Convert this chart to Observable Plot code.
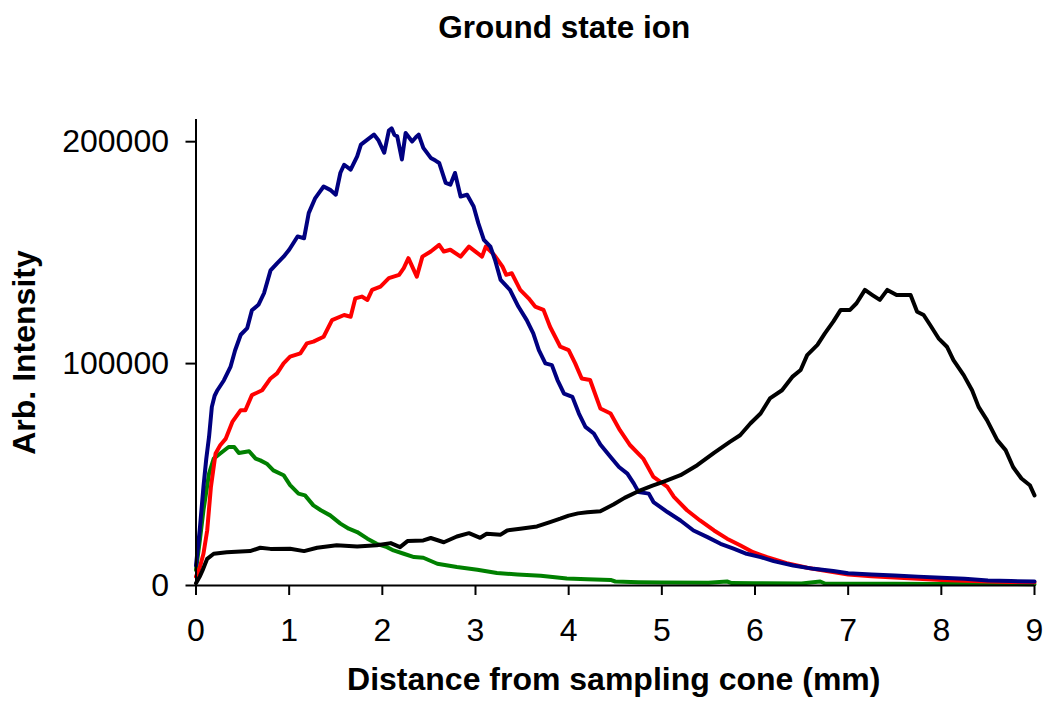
<!DOCTYPE html>
<html>
<head>
<meta charset="utf-8">
<script src="https://cdn.jsdelivr.net/npm/d3@7"></script>
<script src="https://cdn.jsdelivr.net/npm/@observablehq/plot@0.6"></script>
<style>
  html, body { margin: 0; padding: 0; background: #fff; }
  #chart { width: 1044px; height: 702px; }
</style>
</head>
<body>
<div id="chart"></div>
<script>
const titleText = "Ground state ion";
const xLabel = "Distance from sampling cone (mm)";
const yLabel = "Arb. Intensity";
const xTicks = [0, 1, 2, 3, 4, 5, 6, 7, 8, 9];
const yTicks = [0, 100000, 200000];

// [distance (mm), intensity]
const blue = [[0,9000],[0.04,25000],[0.08,44400],[0.11,57000],[0.14,67000],[0.17,80500],[0.2,85500],[0.23,88000],[0.3,92500],[0.37,98500],[0.42,106000],[0.48,113000],[0.55,116000],[0.6,124000],[0.67,126500],[0.73,131700],[0.8,142000],[0.87,145200],[0.94,148200],[1.0,151300],[1.09,157300],[1.16,156500],[1.21,167800],[1.28,174600],[1.33,177500],[1.37,179800],[1.44,178300],[1.5,176100],[1.55,186000],[1.59,189600],[1.66,187400],[1.73,193400],[1.77,198700],[1.84,200900],[1.91,203200],[1.96,200500],[2.02,195000],[2.07,205000],[2.1,206000],[2.13,203000],[2.16,202400],[2.21,192000],[2.25,203900],[2.32,200100],[2.36,202000],[2.39,203200],[2.44,197200],[2.52,192700],[2.57,191500],[2.61,190400],[2.68,181400],[2.73,180600],[2.78,185900],[2.84,175300],[2.91,176100],[2.98,170800],[3.03,163300],[3.09,155800],[3.16,152700],[3.21,146700],[3.27,137700],[3.37,133200],[3.46,125700],[3.55,119600],[3.62,113600],[3.68,106100],[3.75,100100],[3.82,99300],[3.88,92600],[3.95,86500],[4.04,85000],[4.11,77500],[4.18,71500],[4.27,68500],[4.34,63500],[4.45,57900],[4.54,53400],[4.63,50400],[4.7,45900],[4.75,42100],[4.86,41400],[4.91,37600],[5.06,33100],[5.2,29300],[5.34,24800],[5.49,21800],[5.63,18800],[5.77,16600],[5.91,14300],[6.06,12800],[6.2,11000],[6.41,9000],[6.63,7500],[6.84,6500],[7.0,5500],[7.25,5000],[7.5,4500],[7.75,4000],[8.0,3500],[8.25,3000],[8.5,2300],[8.75,2000],[9.0,1800]];

const red = [[0,4000],[0.04,8000],[0.08,14300],[0.12,24800],[0.16,44400],[0.21,59500],[0.26,63200],[0.32,66200],[0.39,73700],[0.48,79000],[0.53,79000],[0.6,85800],[0.71,88000],[0.8,93300],[0.87,95600],[0.94,100100],[1.01,103100],[1.12,104600],[1.19,109100],[1.26,109900],[1.37,112100],[1.46,119600],[1.59,121900],[1.66,121100],[1.71,129400],[1.78,130200],[1.84,128700],[1.89,133200],[1.98,134700],[2.07,138500],[2.18,140000],[2.23,143000],[2.28,147500],[2.37,139200],[2.43,148200],[2.52,150500],[2.61,153500],[2.66,150500],[2.73,151300],[2.84,148200],[2.93,152700],[3.0,150500],[3.07,148200],[3.11,152700],[3.2,149000],[3.29,143700],[3.33,140000],[3.39,140700],[3.48,133200],[3.57,129400],[3.64,125700],[3.73,124200],[3.8,116600],[3.91,107600],[4.0,106100],[4.07,100100],[4.14,93300],[4.23,92600],[4.34,79800],[4.45,77500],[4.55,70000],[4.66,63200],[4.8,57200],[4.91,48900],[5.06,44400],[5.13,39900],[5.27,33900],[5.41,29300],[5.56,24800],[5.7,21100],[5.84,18100],[5.98,15000],[6.13,12800],[6.34,10100],[6.56,8000],[6.77,6500],[7.0,5000],[7.25,4200],[7.5,3600],[7.75,3000],[8.0,2500],[8.25,2100],[8.5,1800],[8.75,1600],[9.0,1500]];

const green = [[0,7000],[0.04,20000],[0.08,33900],[0.14,50400],[0.19,57200],[0.26,59500],[0.35,62400],[0.41,62400],[0.46,59700],[0.57,60500],[0.64,57200],[0.69,56400],[0.76,54900],[0.83,51900],[0.94,49700],[1.01,45200],[1.1,41400],[1.17,40600],[1.26,36100],[1.34,33900],[1.44,31600],[1.55,27900],[1.64,25600],[1.73,24100],[1.84,21100],[1.94,18800],[2.05,17300],[2.12,15800],[2.23,14300],[2.34,12800],[2.44,12500],[2.59,9800],[2.8,8300],[3.02,7100],[3.23,5600],[3.45,5000],[3.7,4400],[3.98,3200],[4.2,2800],[4.45,2500],[4.5,1800],[4.75,1500],[5.0,1300],[5.5,1200],[5.7,1800],[5.75,1100],[6.0,1000],[6.5,900],[6.7,1800],[6.75,900],[7.0,800],[7.5,800],[8.0,700],[8.5,700],[9.0,600]];

const black = [[0,1000],[0.04,4000],[0.07,6800],[0.12,12000],[0.19,14300],[0.33,15000],[0.58,15500],[0.69,17000],[0.8,16500],[1.01,16600],[1.16,15500],[1.3,17000],[1.51,18100],[1.73,17600],[1.94,18100],[2.09,19100],[2.19,17300],[2.27,20000],[2.44,20300],[2.52,21400],[2.66,19500],[2.8,22100],[2.93,23600],[3.05,21500],[3.12,23300],[3.27,22900],[3.34,24800],[3.48,25600],[3.66,26600],[3.8,28600],[3.91,30100],[4.0,31500],[4.1,32500],[4.2,33000],[4.34,33500],[4.48,36500],[4.6,39500],[4.77,42900],[4.9,45000],[5.0,46500],[5.2,49700],[5.38,54200],[5.56,59800],[5.73,64700],[5.84,67700],[5.95,73000],[6.06,77500],[6.16,84300],[6.29,88000],[6.4,94000],[6.49,97100],[6.56,103800],[6.67,108400],[6.75,113600],[6.84,118900],[6.92,124200],[7.02,124200],[7.09,127200],[7.18,133200],[7.26,130900],[7.34,128700],[7.42,133200],[7.52,130900],[7.67,130900],[7.74,123400],[7.81,121900],[7.88,117400],[7.97,111400],[8.06,107600],[8.13,101600],[8.24,94800],[8.33,88000],[8.4,80500],[8.49,74500],[8.6,65500],[8.69,61000],[8.77,53400],[8.86,48200],[8.95,45200],[9.0,40600]];

const seriesColors = ["#008000", "#ff0000", "#000080", "#000000"];
const seriesData = [green, red, blue, black];

const font = "'Liberation Sans', Arial, Helvetica, sans-serif";

const lineMarks = seriesData.map((s, i) =>
  Plot.line(s, {x: d => d[0], y: d => d[1], stroke: seriesColors[i], strokeWidth: 4})
);

const chart = Plot.plot({
  width: 1044,
  height: 702,
  marginLeft: 195.5,
  marginRight: 10,
  marginTop: 119,
  marginBottom: 117,
  x: {domain: [0, 9]},
  y: {domain: [0, 210000]},
  style: {fontFamily: font, fontSize: "32px", color: "#000", background: "#fff"},
  marks: [
    ...lineMarks,
    Plot.ruleX([0], {stroke: "#000", strokeWidth: 2}),
    Plot.ruleY([0], {stroke: "#000", strokeWidth: 2}),
    Plot.axisX({ticks: xTicks, tickSize: 10, tickPadding: 23, tickFormat: d => String(d), strokeWidth: 2, label: null, fontSize: 32}),
    Plot.axisY({ticks: yTicks, tickSize: 10, tickPadding: 17, tickFormat: d => String(d), strokeWidth: 2, label: null, fontSize: 32}),
    Plot.text([titleText], {text: d => d, frameAnchor: "top", dx: -51, dy: -82, lineAnchor: "bottom", textAnchor: "middle", fontWeight: "bold", fontSize: 31.5}),
    Plot.text([xLabel], {text: d => d, frameAnchor: "bottom", dx: -1.5, dy: 104, lineAnchor: "bottom", textAnchor: "middle", fontWeight: "bold", fontSize: 32}),
    Plot.text([yLabel], {text: d => d, frameAnchor: "left", dx: -161.5, rotate: -90, lineAnchor: "bottom", textAnchor: "middle", fontWeight: "bold", fontSize: 32})
  ]
});

document.getElementById("chart").appendChild(chart);
</script>
</body>
</html>
